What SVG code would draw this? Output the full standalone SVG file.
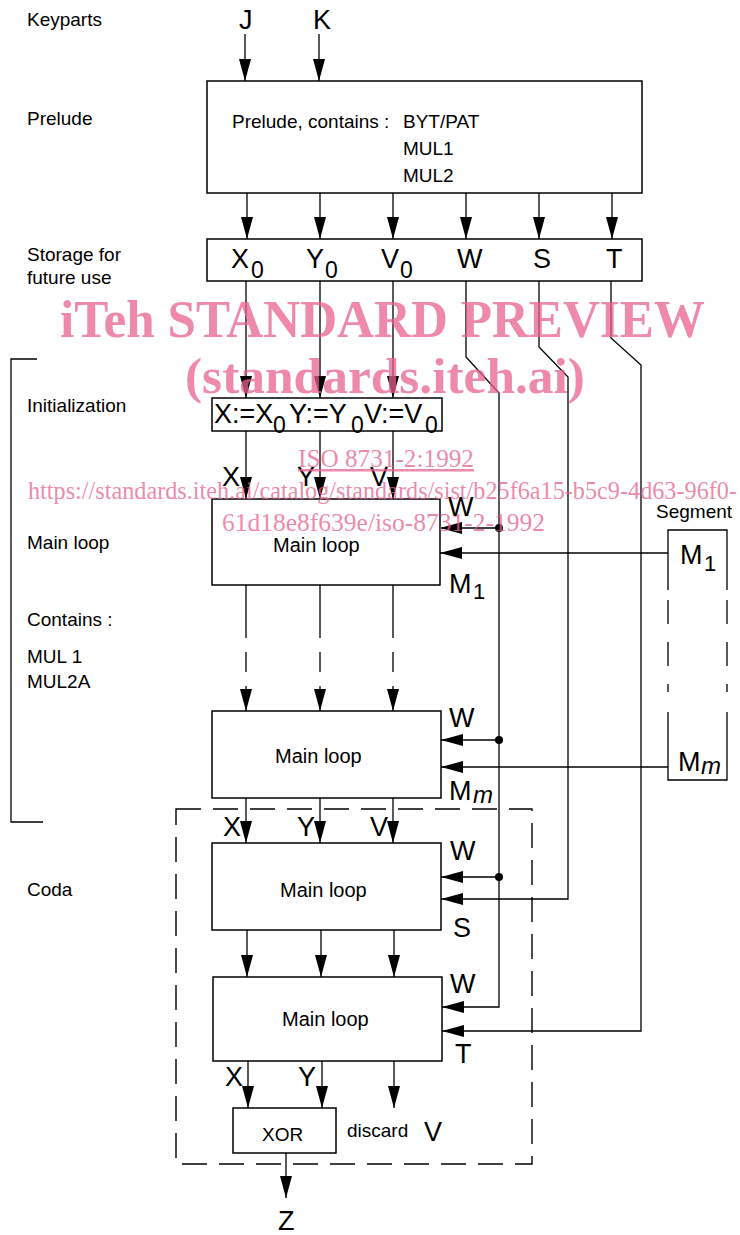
<svg xmlns="http://www.w3.org/2000/svg" width="740" height="1235" viewBox="0 0 740 1235">
<style>
text{font-family:"Liberation Sans",Arial,sans-serif;fill:#000}
.lbl{font-size:19px}
.big{font-size:27px}
.sub{font-size:23px}
.box{fill:#fff;stroke:#000;stroke-width:1.5}
.ln{fill:none;stroke:#000;stroke-width:1.3}
.arr{fill:none;stroke:#000;stroke-width:1.3;marker-end:url(#ah)}
.dash{fill:none;stroke:#000;stroke-width:1.4;stroke-dasharray:25 12}
.wm{font-family:"Liberation Serif","Times New Roman",serif;fill:#e8628c;fill-opacity:0.75}
</style>
<defs>
<marker id="ah" viewBox="0 0 22 12" refX="22" refY="6" markerWidth="22" markerHeight="12" markerUnits="userSpaceOnUse" orient="auto"><path d="M0,0 L22,6 L0,12 z" fill="#000"/></marker>
</defs>

<g id="side-labels">
<text class="lbl" x="27" y="26">Keyparts</text>
<text class="lbl" x="27" y="125">Prelude</text>
<text class="lbl" x="27" y="261">Storage for</text>
<text class="lbl" x="27" y="284">future use</text>
<text class="lbl" x="27" y="412">Initialization</text>
<text class="lbl" x="27" y="549">Main loop</text>
<text class="lbl" x="27" y="626">Contains :</text>
<text class="lbl" x="27" y="663">MUL 1</text>
<text class="lbl" x="27" y="688">MUL2A</text>
<text class="lbl" x="27" y="896">Coda</text>
<path class="ln" d="M37,359 H11 V822 H43"/>
</g>

<g id="keyparts">
<text class="big" x="239" y="29">J</text>
<text class="big" x="313" y="29">K</text>
</g>

<g id="prelude">
<rect class="box" x="207" y="81" width="435" height="112"/>
<text class="lbl" x="232" y="128">Prelude, contains :</text>
<text class="lbl" x="403" y="128">BYT/PAT</text>
<text class="lbl" x="403" y="155">MUL1</text>
<text class="lbl" x="403" y="182">MUL2</text>
</g>

<g id="storage">
<rect class="box" x="207" y="239" width="435" height="42"/>
<text class="big" x="231" y="268">X</text><text class="sub" x="251" y="278">0</text>
<text class="big" x="306" y="268">Y</text><text class="sub" x="325" y="278">0</text>
<text class="big" x="381" y="268">V</text><text class="sub" x="400" y="278">0</text>
<text class="big" x="457" y="268">W</text>
<text class="big" x="533" y="268">S</text>
<text class="big" x="606" y="268">T</text>
</g>

<g id="init">
<rect class="box" x="212" y="398" width="230" height="33"/>
<text class="big" x="214" y="423">X:=X</text><text class="sub" x="273" y="433">0</text>
<text class="big" x="289" y="423">Y:=Y</text><text class="sub" x="351" y="433">0</text>
<text class="big" x="364" y="423">V:=V</text><text class="sub" x="425" y="433">0</text>
</g>

<g id="mainloop1">
<rect class="box" x="212" y="499" width="228" height="86"/>
<text x="273" y="552" style="font-size:20px">Main loop</text>
<text class="big" x="222" y="486">X</text>
<text class="big" x="297" y="486">Y</text>
<text class="big" x="370" y="486">V</text>
<text class="big" x="448" y="516">W</text>
<text class="big" x="449" y="593">M</text><text x="473" y="599" style="font-size:22px">1</text>
</g>

<g id="mainloop2">
<rect class="box" x="212" y="711" width="229" height="87"/>
<text x="275" y="763" style="font-size:20px">Main loop</text>
<text class="big" x="449" y="727">W</text>
<text class="big" x="449" y="800">M</text><text x="473" y="803" style="font-size:24px;font-style:italic">m</text>
</g>

<g id="segment">
<text class="lbl" x="656" y="518">Segment</text>
<path class="ln" d="M668,590 V530 H727 V590 M668,600 V624 M727,600 V624 M668,642 V666 M727,642 V666 M668,684 V692 M727,684 V692 M668,712 V780 H727 V712"/>
<text class="big" x="680" y="564">M</text><text x="704" y="571" style="font-size:22px">1</text>
<text class="big" x="678" y="771">M</text><text x="701" y="774" style="font-size:24px;font-style:italic">m</text>
</g>

<g id="coda">
<rect class="dash" x="176" y="809" width="356" height="355"/>
</g>

<g id="mainloop3">
<rect class="box" x="212" y="843" width="229" height="87"/>
<text x="280" y="897" style="font-size:20px">Main loop</text>
<text class="big" x="223" y="836">X</text>
<text class="big" x="297" y="836">Y</text>
<text class="big" x="370" y="836">V</text>
<text class="big" x="450" y="860">W</text>
<text class="big" x="453" y="937">S</text>
</g>

<g id="mainloop4">
<rect class="box" x="213" y="977" width="229" height="84"/>
<text x="282" y="1026" style="font-size:20px">Main loop</text>
<text class="big" x="450" y="993">W</text>
<text class="big" x="455" y="1063">T</text>
<text class="big" x="225" y="1086">X</text>
<text class="big" x="298" y="1086">Y</text>
</g>

<g id="xor">
<rect class="box" x="233" y="1108" width="103" height="45"/>
<text x="262" y="1141" style="font-size:19px">XOR</text>
<text class="lbl" x="347" y="1137">discard</text>
<text class="big" x="424" y="1141">V</text>
</g>

<g id="output">
<text class="big" x="278" y="1230">Z</text>
</g>

<g id="connectors">
<path class="arr" d="M245,34 V81"/>
<path class="arr" d="M319,34 V81"/>
<path class="arr" d="M247,193 V239"/>
<path class="arr" d="M320,193 V239"/>
<path class="arr" d="M393,193 V239"/>
<path class="arr" d="M466,193 V239"/>
<path class="arr" d="M539,193 V239"/>
<path class="arr" d="M612,193 V239"/>
<path class="arr" d="M246,281 V398"/>
<path class="arr" d="M320,281 V398"/>
<path class="arr" d="M393,281 V398"/>
<path class="arr" d="M246,431 V499"/>
<path class="arr" d="M320,431 V499"/>
<path class="arr" d="M393,431 V499"/>
<path class="ln" d="M246,585 V638 M246,652 V672 M320,585 V638 M320,652 V672 M393,585 V638 M393,652 V672"/>
<path class="arr" d="M246,686 V711"/>
<path class="arr" d="M320,686 V711"/>
<path class="arr" d="M393,686 V711"/>
<path class="arr" d="M246,798 V843"/>
<path class="arr" d="M320,798 V843"/>
<path class="arr" d="M393,798 V843"/>
<path class="arr" d="M247,930 V977"/>
<path class="arr" d="M321,930 V977"/>
<path class="arr" d="M394,930 V977"/>
<path class="arr" d="M248,1061 V1108"/>
<path class="arr" d="M322,1061 V1108"/>
<path class="arr" d="M394,1061 V1108"/>
<path class="arr" d="M286,1153 V1198"/>
<path class="arr" d="M466,281 V357 L499,393 V1007 H442"/>
<path class="arr" d="M539,281 V347 L568,377 V899 H441"/>
<path class="arr" d="M611,281 V338 L641,365 V1031 H442"/>
<path class="arr" d="M499,528 H440"/>
<path class="arr" d="M499,740 H441"/>
<path class="arr" d="M499,877 H441"/>
<path class="arr" d="M668,553 H440"/>
<path class="arr" d="M668,767 H441"/>
<circle cx="499" cy="528" r="4"/>
<circle cx="499" cy="740" r="4"/>
<circle cx="499" cy="877" r="4"/>
</g>

<g id="watermark">
<text class="wm" x="60" y="337" style="font-size:52px;font-weight:bold" textLength="645" lengthAdjust="spacingAndGlyphs">iTeh STANDARD PREVIEW</text>
<text class="wm" x="185" y="393" style="font-size:50px;font-weight:bold" textLength="400" lengthAdjust="spacingAndGlyphs">(standards.iteh.ai)</text>
<text class="wm" x="298" y="467" style="font-size:25px;text-decoration:underline" textLength="176" lengthAdjust="spacingAndGlyphs">ISO 8731-2:1992</text>
<text class="wm" x="28" y="499" style="font-size:25px" textLength="709" lengthAdjust="spacingAndGlyphs">https://standards.iteh.ai/catalog/standards/sist/b25f6a15-b5c9-4d63-96f0-</text>
<text class="wm" x="222" y="531" style="font-size:25px" textLength="323" lengthAdjust="spacingAndGlyphs">61d18e8f639e/iso-8731-2-1992</text>
</g>
</svg>
